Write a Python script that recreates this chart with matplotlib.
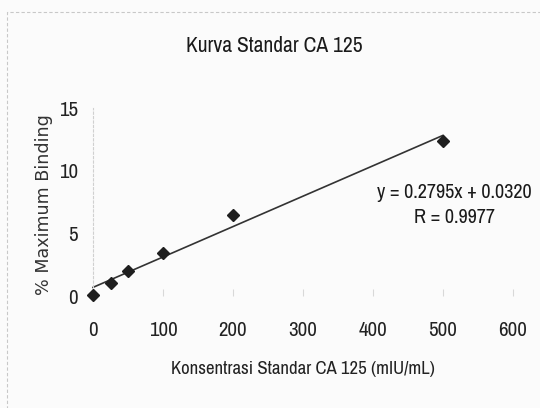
import numpy as np
import matplotlib
matplotlib.use("Agg")
import matplotlib.pyplot as plt
from matplotlib.patches import Rectangle

# Data
concentration = [0, 25, 50, 100, 200, 500]
binding = [0.1, 1.0, 2.0, 3.4, 6.45, 12.4]
x_ticks = [0, 100, 200, 300, 400, 500, 600]
y_ticks = [0, 5, 10, 15]
title = "Kurva Standar CA 125"
x_label = "Konsentrasi Standar CA 125 (mIU/mL)"
y_label = "% Maximum Binding"
equation_text = "y = 0.2795x + 0.0320\nR = 0.9977"

NARROW = ["Archivo Narrow", "Roboto Condensed", "Liberation Sans", "DejaVu Sans"]

W, H = 540, 408
fig = plt.figure(figsize=(W / 100, H / 100), dpi=100)
bg = "#fbfbfb"
fig.patch.set_facecolor(bg)

def fx(px):
    return px / W

def fy(py):
    return 1 - py / H

ax_left, ax_right = 93, 513
ax_top, ax_bottom = 108, 296
ax = fig.add_axes([fx(ax_left), fy(ax_bottom), fx(ax_right - ax_left), (ax_bottom - ax_top) / H])
ax.set_facecolor("none")
ax.set_xlim(0, 600)
ax.set_ylim(0, 15)

# trend line fitted from the data
slope, intercept = np.polyfit(concentration, binding, 1)
xl = np.array([min(concentration), max(concentration)])
ax.plot(xl, slope * xl + intercept, color="#333333", lw=1.2, zorder=2, clip_on=False)
ax.plot(concentration, binding, linestyle="none", marker="D", markersize=6,
        color="#1e1e1e", zorder=3, clip_on=False)

for s in ["top", "right"]:
    ax.spines[s].set_visible(False)
ax.spines["left"].set_color("#d0d0d0")
ax.spines["left"].set_linestyle((0, (2, 2)))
ax.spines["left"].set_linewidth(0.8)
ax.spines["bottom"].set_visible(False)

ax.set_xticks(x_ticks)
ax.set_yticks(y_ticks)
ax.tick_params(axis="x", length=5, color="#d8d8d8", direction="in", pad=18,
               labelsize=15, labelcolor="#222222")
ax.tick_params(axis="y", length=0, pad=11, labelsize=15, labelcolor="#222222")
for lab in ax.get_xticklabels() + ax.get_yticklabels():
    lab.set_family(NARROW)

fig.text(fx(274), fy(46), title, ha="center", va="center", fontsize=15.5,
         family=NARROW, color="#1a1a1a")
fig.text(fx(303), fy(369), x_label, ha="center", va="center", fontsize=13.5,
         family=NARROW, color="#222222")
fig.text(fx(44), fy(205), y_label, ha="center", va="center", rotation=90,
         fontsize=12.6, family=["DejaVu Sans"], color="#333333")
fig.text(fx(454), fy(205), equation_text, ha="center", va="center", fontsize=14.5,
         family=NARROW, color="#1a1a1a", linespacing=1.45)

# chart area border
fig.patches.append(Rectangle((fx(7), fy(H + 20)), 1.2, (H + 20 - 12) / H,
                             transform=fig.transFigure, fill=False,
                             edgecolor="#c8c8c8", lw=0.8, linestyle=(0, (3, 2))))

fig.savefig("out.png", dpi=100, facecolor=bg)
